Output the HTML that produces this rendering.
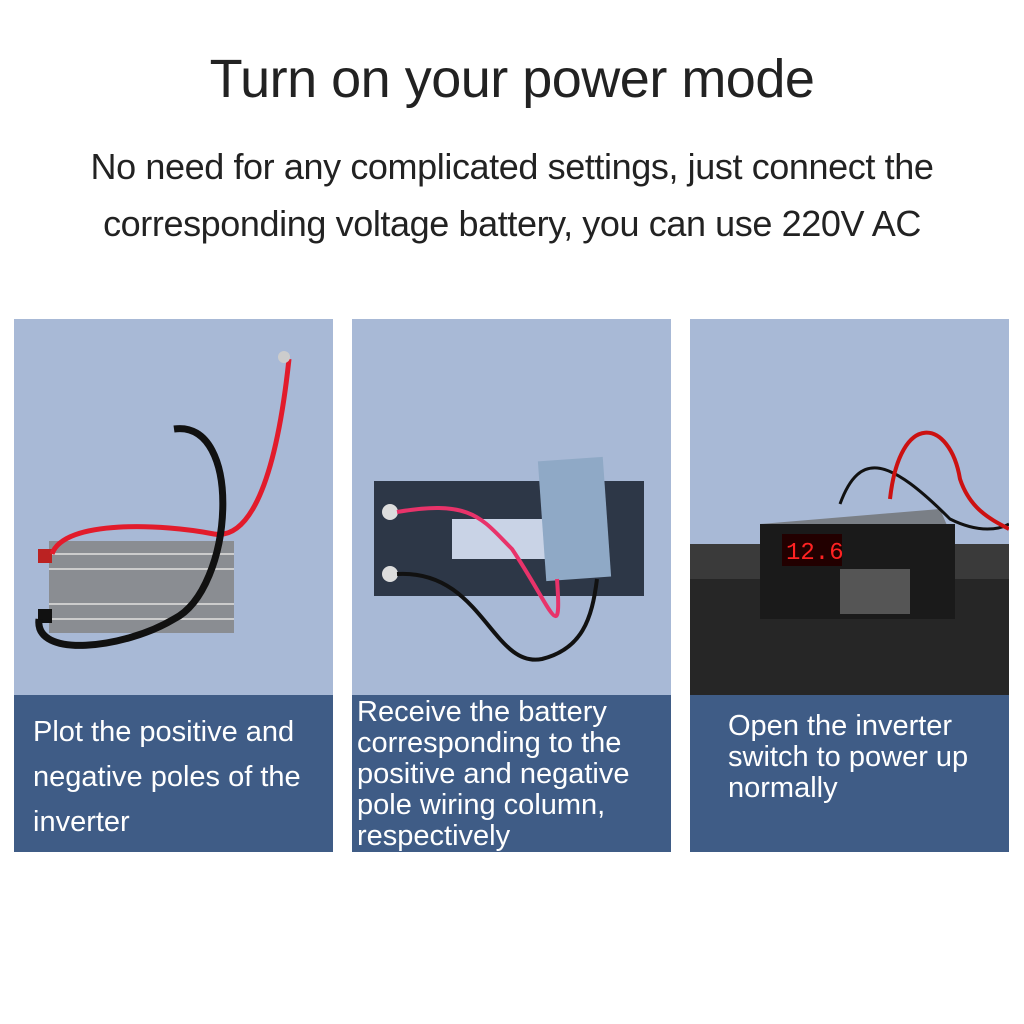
<!DOCTYPE html>
<html><head><style>
body{margin:0;width:1024px;height:1024px;background:#fff;position:relative;overflow:hidden;font-family:"Liberation Sans",sans-serif;}
.t{position:absolute;left:0;width:1024px;text-align:center;color:#222;white-space:nowrap}
.p{position:absolute;top:319px;width:319px;height:533px;background:#a8b9d6}
.b{position:absolute;left:0;top:376px;width:319px;height:157px;background:#3f5c86;color:#fff;font-size:29px;line-height:31px;white-space:nowrap;overflow:hidden}
svg{position:absolute;left:0;top:0}
</style></head><body>
<div class="t" style="top:48px;font-size:54px;letter-spacing:-0.5px">Turn on your power mode</div>
<div class="t" style="top:146px;font-size:36px;letter-spacing:-0.4px">No need for any complicated settings, just connect the</div>
<div class="t" style="top:203px;font-size:36px;letter-spacing:-0.4px">corresponding voltage battery, you can use 220V AC</div>

<div class="p" style="left:14px">
<svg width="319" height="376">
<rect x="35" y="222" width="185" height="92" fill="#8a8d92"/>
<g stroke="#ccc" stroke-width="2"><line x1="35" y1="235" x2="220" y2="235"/><line x1="35" y1="250" x2="220" y2="250"/><line x1="35" y1="285" x2="220" y2="285"/><line x1="35" y1="300" x2="220" y2="300"/></g>
<rect x="24" y="230" width="14" height="14" fill="#b22"/>
<rect x="24" y="290" width="14" height="14" fill="#111"/>
<path d="M38 235 C50 200,150 205,200 215 C230 220,260 180,275 40" stroke="#e21b2b" stroke-width="5" fill="none"/>
<circle cx="270" cy="38" r="6" fill="#ccc"/>
<path d="M160 110 C230 100,220 270,160 300 C110 330,20 340,25 300" stroke="#111" stroke-width="7" fill="none"/>
</svg>
<div class="b" style="padding:15px 0 0 19px;box-sizing:border-box;line-height:45px">Plot the positive and<br>negative poles of the<br>inverter</div>
</div>

<div class="p" style="left:352px">
<svg width="319" height="376">
<rect x="22" y="162" width="270" height="115" fill="#2d3747"/>
<rect x="100" y="200" width="100" height="40" fill="#c9d3e6"/>
<rect x="190" y="140" width="65" height="120" fill="#8fa9c6" transform="rotate(-4 222 200)"/>
<circle cx="38" cy="193" r="8" fill="#ddd"/><circle cx="38" cy="255" r="8" fill="#ddd"/>
<path d="M45 193 C120 180,130 200,160 230 C200 290,210 330,205 260" stroke="#e8336a" stroke-width="4" fill="none"/>
<path d="M45 255 C130 250,140 350,190 340 C230 330,240 300,245 260" stroke="#111" stroke-width="4" fill="none"/>
</svg>
<div class="b" style="padding:2px 0 0 5px;box-sizing:border-box;line-height:31px">Receive the battery<br>corresponding to the<br>positive and negative<br>pole wiring column,<br>respectively</div>
</div>

<div class="p" style="left:690px">
<svg width="319" height="376">
<rect x="0" y="225" width="319" height="151" fill="#3a3a3a"/>
<rect x="0" y="260" width="319" height="116" fill="#262626"/>
<path d="M70 205 L250 190 L265 225 L70 225Z" fill="#7a7f86"/>
<rect x="70" y="205" width="195" height="95" fill="#1a1a1a"/>
<rect x="92" y="215" width="60" height="32" fill="#200"/>
<text x="96" y="240" fill="#f22" font-size="24" font-family="Liberation Mono">12.6</text>
<rect x="150" y="250" width="70" height="45" fill="#555"/>
<path d="M150 185 C170 130,200 140,260 200 C290 215,310 210,319 205" stroke="#111" stroke-width="3" fill="none"/>
<path d="M200 180 C210 90,260 100,270 160 C280 190,300 200,319 210" stroke="#c11" stroke-width="4" fill="none"/>
</svg>
<div class="b" style="padding:16px 0 0 38px;box-sizing:border-box;line-height:31px">Open the inverter<br>switch to power up<br>normally</div>
</div>
</body></html>
